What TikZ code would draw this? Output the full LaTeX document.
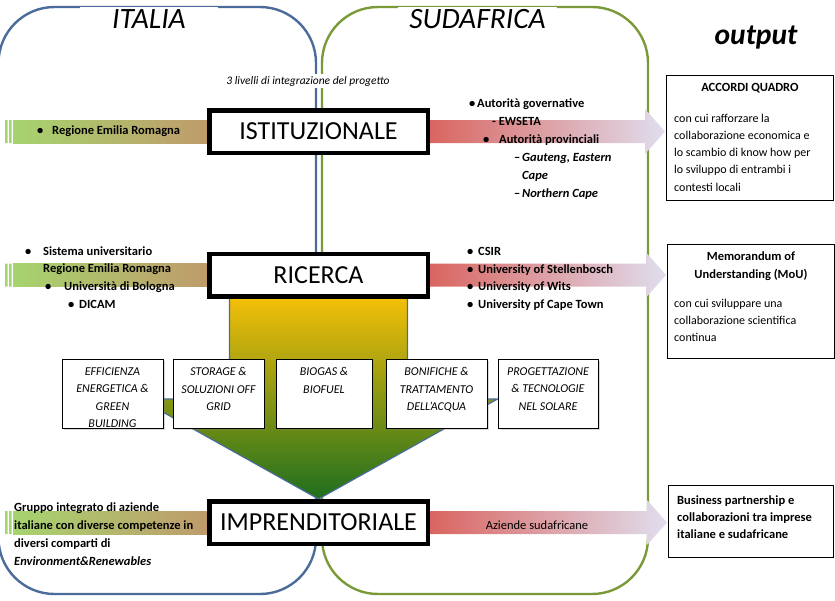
\documentclass[tikz,border=0pt]{standalone}
\usepackage{fontspec}
\setmainfont{Carlito}
\usetikzlibrary{positioning, shadows, backgrounds, calc}
\definecolor{itablue}{RGB}{75,108,155}
\definecolor{sagreen}{RGB}{122,154,58}
\definecolor{barred}{RGB}{217,99,94}
\definecolor{barlav}{RGB}{224,222,238}
\definecolor{bargreen}{RGB}{166,212,110}
\definecolor{bartan}{RGB}{192,154,107}
\definecolor{arwyellow}{RGB}{248,193,8}
\definecolor{arwmid}{RGB}{160,186,88}
\definecolor{arwgreen}{RGB}{30,110,30}

\begin{document}
\begin{tikzpicture}[x=1pt, y=-1pt,
    every node/.style = {font=\fontsize{12.5}{17.5}\selectfont},
    region/.style = {line width=2.4pt, rounded corners=56pt},
    title/.style = {fill=white, inner sep=0pt, minimum height=24pt,
                    font=\fontsize{29.5}{31}\selectfont\itshape},
    levelbox/.style = {draw=black, fill=white, line width=4.5pt, inner sep=0pt,
                       minimum width=218.5pt, minimum height=42.5pt,
                       font=\fontsize{26}{30}\selectfont},
    sector/.style = {draw=black, fill=white, line width=0.8pt, anchor=north,
                     minimum height=69pt,
                     drop shadow={shadow xshift=1.5pt, shadow yshift=-1.5pt, opacity=0.3}},
    sectortext/.style = {anchor=north, inner sep=0pt, align=center,
                         font=\fontsize{12}{17.5}\selectfont\itshape},
    outbox/.style = {draw=black, line width=0.9pt, minimum width=167pt, anchor=north west},
    outtext/.style = {anchor=north west, inner sep=0pt, align=left,
                      font=\fontsize{12}{17.3}\selectfont},
    listtext/.style = {anchor=north west, inner sep=0pt, align=left,
                       font=\fontsize{12.5}{17.7}\selectfont\bfseries},
    bigarrow/.style = {draw=itablue, line width=1.2pt, top color=arwyellow,
                       middle color=arwmid, bottom color=arwgreen}
]
  \useasboundingbox (0,0) rectangle (835,600);

  \node[title, minimum width=138pt] (ita) at (149,19) {ITALIA};
  \node[title, minimum width=159pt] (saf) at (477.5,19) {SUDAFRICA};
  \node[font=\fontsize{29.5}{31}\selectfont\bfseries\itshape] (out) at (756,38) {output};
  \node[fill=white, inner sep=2pt, font=\fontsize{11.5}{13}\selectfont\itshape] (liv) at (308,81)
    {3 livelli di integrazione del progetto};

  \node[levelbox] (ist) at (318.5,131.5) {ISTITUZIONALE};
  \node[levelbox] (ric) at (318.5,275) {RICERCA};
  \node[levelbox] (imp) at (318.5,522.5) {IMPRENDITORIALE};

  \node[outbox, minimum height=125pt] (acc) at (666,75) {};
  \node[outbox, minimum height=114pt] (mou) at (667,244) {};
  \node[outbox, minimum height=72pt, minimum width=165pt] (bus) at (668,485) {};

  \begin{scope}[on background layer]
    \draw[region, itablue] (-1.5,7) rectangle (316,594);
    \draw[region, sagreen] (322,7) rectangle (648,594);
    \shadedraw[bigarrow] let \p1 = (ric.south), \p2 = (imp.north) in
      (\x1-89pt,\y1+5pt) -- (\x1+89pt,\y1+5pt) -- (\x1+89pt,\y2+100pt) -- (\x1+179pt,\y2+100pt)
      -- (\x2,\y2) -- (\x1-179pt,\y2+100pt) -- (\x1-89pt,\y2+100pt) -- cycle;
    \foreach \lv in {ist,ric,imp} {
      \shade[left color=bargreen, right color=bartan] let \p1 = (\lv.west) in
        (13pt,\y1+11.5pt) rectangle (\x1+4pt,\y1-11.5pt);
      \fill[bargreen] let \p1 = (\lv.west) in
        (5pt,\y1+11.5pt) rectangle (7.5pt,\y1-11.5pt)
        (9pt,\y1+11.5pt) rectangle (11.5pt,\y1-11.5pt);
    }
    \foreach \a/\b in {ist/acc, ric/mou, imp/bus} {
      \shade[left color=barred, right color=barlav] let \p1 = (\a.east), \p2 = (\b.west) in
        (\x1-4pt,\y1+11.5pt) -- (\x2-21pt,\y1+11.5pt) -- (\x2-21pt,\y1+22.5pt) -- (\x2-1pt,\y1)
        -- (\x2-21pt,\y1-22.5pt) -- (\x2-21pt,\y1-11.5pt) -- (\x1-4pt,\y1-11.5pt) -- cycle;
    }
  \end{scope}

  \foreach \s/\sx/\w/\txt in {eff/112.5/101/{EFFICIENZA\\ENERGETICA \&\\GREEN\\BUILDING},
      sto/218.5/91/{STORAGE \&\\SOLUZIONI OFF\\GRID},
      bio/324/96/{BIOGAS \&\\BIOFUEL},
      bon/436.5/101/{BONIFICHE \&\\TRATTAMENTO\\DELL'ACQUA},
      pro/548/100/{PROGETTAZIONE\\\& TECNOLOGIE\\NEL SOLARE}} {
    \node[sector, minimum width=\w pt] (\s) at (\sx,359) {};
    \node[sectortext] (\s txt) at ([yshift=-8.5pt]\s.north) {\txt};
  }

  % liste a sinistra
  \node[listtext] (itaist) at (37,125.5) {\makebox[15pt][l]{\textbullet}Regione Emilia Romagna};
  \node[listtext] (itaric) at (25,246.3) {\makebox[18pt][l]{\textbullet}Sistema universitario\\
    \hspace*{18pt}Regione Emilia Romagna\\
    \hspace*{20pt}\makebox[19pt][l]{\textbullet}Università di Bologna\\
    \hspace*{43pt}\makebox[11pt][l]{\textbullet}DICAM};
  \node[listtext] (itaimp) at (14,503) {Gruppo integrato di aziende\\
    italiane con diverse competenze in\\diversi comparti di\\
    \textit{Environment\&Renewables}};

  % liste a destra
  \node[listtext, font=\fontsize{12.5}{18}\selectfont\bfseries] (safist) at (469,98.5)
    {\makebox[8pt][l]{\textbullet}Autorità governative\\
    \hspace*{23pt}- EWSETA\\
    \hspace*{14pt}\makebox[16pt][l]{\textbullet}Autorità provinciali\\
    \hspace*{45pt}\makebox[8pt][l]{--}\textit{Gauteng, Eastern}\\
    \hspace*{53pt}\textit{Cape}\\
    \hspace*{45pt}\makebox[8pt][l]{--}\textit{Northern Cape}};
  \node[listtext] (safric) at (467,247) {\makebox[11pt][l]{\textbullet}CSIR\\
    \makebox[11pt][l]{\textbullet}University of Stellenbosch\\
    \makebox[11pt][l]{\textbullet}University of Wits\\
    \makebox[11pt][l]{\textbullet}University pf Cape Town};
  \node (safimp) at (537,525) {Aziende sudafricane};

  % output
  \node[anchor=north, inner sep=0pt, font=\fontsize{12.5}{17.5}\selectfont\bfseries] (acct)
    at ([yshift=-8.5pt]acc.north) {ACCORDI QUADRO};
  \node[outtext] (accb) at ([xshift=8pt, yshift=-38.5pt]acc.north west)
    {con cui rafforzare la\\collaborazione economica e\\lo scambio di know how per\\
     lo sviluppo di entrambi i\\contesti locali};
  \node[anchor=north, inner sep=0pt, align=center, font=\fontsize{12.5}{17.7}\selectfont\bfseries] (mout)
    at ([yshift=-7.8pt]mou.north) {Memorandum of\\Understanding (MoU)};
  \node[outtext] (moub) at ([xshift=7pt, yshift=-54.5pt]mou.north west)
    {con cui sviluppare una\\collaborazione scientifica\\continua};
  \node[outtext, font=\fontsize{12.5}{17}\selectfont\bfseries] (bust) at ([xshift=9pt, yshift=-10.8pt]bus.north west)
    {Business partnership e\\collaborazioni tra imprese\\italiane e sudafricane};
\end{tikzpicture}
\end{document}
